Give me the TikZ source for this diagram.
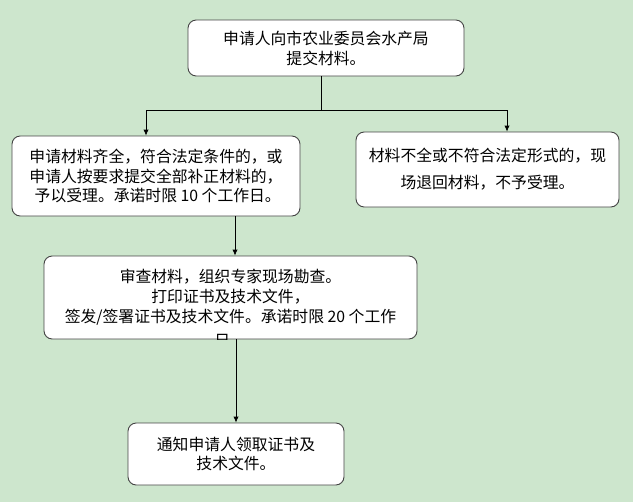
\documentclass[tikz,border=0pt]{standalone}
\usepackage{fontspec}
\setmainfont{Noto Sans CJK SC}
\usepackage{xcolor}
\usetikzlibrary{positioning, arrows.meta, calc}

\definecolor{bgreen}{RGB}{205,230,205}
\definecolor{bordergray}{RGB}{70,70,70}

\begin{document}
\begin{tikzpicture}[
			font=\fontsize{13.5pt}{17pt}\selectfont,
			>={Latex[length=5pt,width=4.5pt]},
			% Define styles for the boxes
			stagebox/.style={
				draw=bordergray,
				fill=white,
				line width=0.8pt,
				rounded corners=7pt,
				align=center,
				inner sep=0pt
			},
			flow/.style={
				->, black, line width=0.6pt
			}
			]
			
			% background and margins
			\fill[bgreen] (0,0) rectangle (18.99,-15.06);
			\useasboundingbox (0,0) rectangle (18.99,-15.06);
			
			% --- 1. APPLICATION ---
			\node[stagebox, minimum width=8.28cm, minimum height=1.68cm] (apply) at (9.78,-1.44) {
				申请人向市农业委员会水产局\\
				提交材料。
			};
			
			% --- 2. ACCEPTED ---
			\node[stagebox, minimum width=8.64cm, minimum height=2.4cm] (accept) at (4.68,-5.28) {
				申请材料齐全，符合法定条件的，或\\
				申请人按要求提交全部补正材料的，\\
				\ 予以受理。承诺时限 10 个工作日。
			};
			
			% --- 3. REJECTED ---
			\node[stagebox, minimum width=7.89cm, minimum height=2.25cm,
				font=\fontsize{13.5pt}{23pt}\selectfont] (reject) at (14.625,-5.085) {
				材料不全或不符合法定形式的，现\\
				场退回材料，不予受理。
			};
			
			% --- 4. REVIEW ---
			\node[stagebox, minimum width=11.19cm, minimum height=2.49cm] (review) at (6.915,-8.925) {
				审查材料，组织专家现场勘查。\\
				打印证书及技术文件，\\
				签发/签署证书及技术文件。承诺时限 20 个工作
			};
			% last line cut off by the box border
			\begin{scope}
				\clip[rounded corners=7pt] (review.south west) rectangle (review.north east);
				\node[inner sep=0pt] (review_tail) at ([xshift=-0.25cm, yshift=-0.04cm]review.south) {日};
			\end{scope}
			
			% --- 5. NOTICE ---
			\node[stagebox, minimum width=6.48cm, minimum height=1.86cm] (notice) at (7.08,-13.62) {
				通知申请人领取证书及\\
				技术文件。
			};
			
			% Split below the application box
			\coordinate (split) at ($(apply.south)+(-0.15,-1.02)$);
			\coordinate (split_l) at (4.38,-3.3);
			\coordinate (split_r) at (15.21,-3.3);
			\draw[line width=0.6pt] (apply.south -| split) -- (split);
			\draw[line width=0.6pt] (split_l) -- (split_r);
			\draw[flow] (split_l) -- (split_l |- accept.north);
			\draw[flow] (split_r) -- (split_r |- reject.north);
			
			% Accepted -> Review -> Notice
			\coordinate (down_a) at (7.05,-3.3);
			\draw[flow] (down_a |- accept.south) -- (down_a |- review.north);
			\draw[flow] (notice.north |- review.south) -- (notice.north);
			
		\end{tikzpicture}
\end{document}
